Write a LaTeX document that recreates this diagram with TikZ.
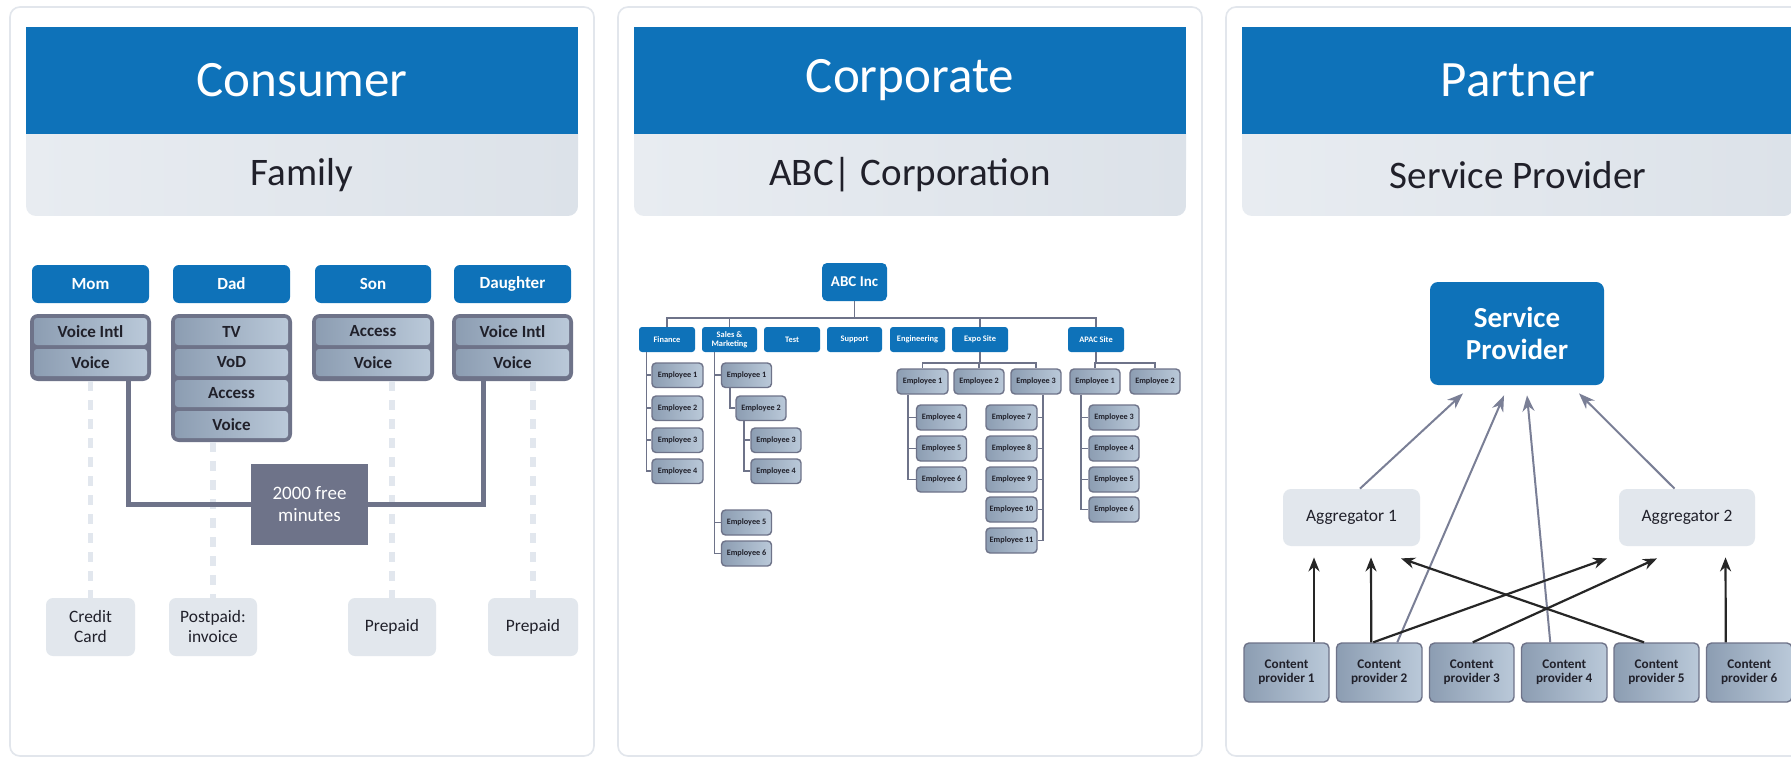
\documentclass[tikz,border=0pt]{standalone}
\usepackage{fontspec}
\setmainfont{Carlito}
\usetikzlibrary{calc,arrows.meta}
\definecolor{hblue}{RGB}{14,114,185}
\definecolor{dgray}{RGB}{110,115,137}
\definecolor{steelL}{RGB}{140,157,178}
\definecolor{steelR}{RGB}{186,201,217}
\definecolor{pale}{RGB}{226,231,237}
\definecolor{subL}{RGB}{232,236,241}
\definecolor{subR}{RGB}{220,226,233}
\definecolor{cardB}{RGB}{226,230,236}
\definecolor{dashc}{RGB}{226,231,238}
\definecolor{agray}{RGB}{122,127,150}
\definecolor{txt}{RGB}{32,32,42}
\newcommand{\pbx}[6]{\node[#2,minimum width={(#5-#3)*0.5pt},minimum height={(#6-#4)*0.5pt}] (#1) at ({(#3+#5)/2},{(#4+#6)/2})}
\begin{document}
\begin{tikzpicture}[x=0.5pt,y=-0.5pt,
  card/.style={draw=cardB,line width=0.8pt,fill=white,rounded corners=5pt},
  hdr/.style={fill=hblue,text=white,inner sep=0pt,font=\fontsize{25.5}{30}\selectfont},
  subpatch/.style={left color=subL,right color=subR},
  sub/.style={left color=subL,right color=subR,rounded corners=5pt,text=txt,inner sep=0pt,font=\fontsize{19.5}{24}\selectfont},
  person/.style={fill=hblue,rounded corners=3pt,text=white,inner sep=0pt,font=\bfseries\fontsize{8.5}{10}\selectfont},
  stack/.style={fill=dgray,rounded corners=4pt,inner sep=0pt},
  cell/.style={left color=steelL,right color=steelR,rounded corners=1.5pt,text=txt,inner sep=0pt,font=\bfseries\fontsize{8.5}{10}\selectfont},
  bill/.style={fill=pale,rounded corners=3.5pt,text=txt,align=center,inner sep=0pt,font=\fontsize{8.7}{10}\selectfont},
  freebox/.style={fill=dgray,text=white,align=center,inner sep=0pt,font=\fontsize{9.5}{11}\selectfont},
  dashline/.style={draw=dashc,line width=2.8pt,dash pattern=on 5pt off 4.5pt},
  thickline/.style={draw=dgray,line width=2.5pt},
  abcbox/.style={fill=hblue,rounded corners=2.5pt,text=white,inner sep=0pt,font=\bfseries\fontsize{7.5}{9}\selectfont},
  dept/.style={fill=hblue,rounded corners=1.5pt,text=white,align=center,inner sep=0pt,font=\bfseries\fontsize{4.2}{4.6}\selectfont},
  emp/.style={draw=dgray,line width=0.7pt,left color=steelL,right color=steelR,rounded corners=2pt,text=txt,inner sep=0pt,font=\bfseries\fontsize{4.1}{5}\selectfont},
  org/.style={draw=dgray,line width=0.8pt},
  spbox/.style={fill=hblue,rounded corners=4pt,text=white,align=center,inner sep=0pt,font=\bfseries\fontsize{14.5}{16}\selectfont},
  agg/.style={fill=pale,rounded corners=4pt,text=txt,inner sep=0pt,font=\fontsize{8.7}{10}\selectfont},
  cp/.style={draw=dgray,line width=0.7pt,left color=steelL,right color=steelR,rounded corners=2.5pt,text=txt,align=center,inner sep=0pt,font=\bfseries\fontsize{6.6}{7.2}\selectfont},
  garrow/.style={draw=agray,line width=1pt,-{Stealth[length=8pt,width=6pt]}},
  barrow/.style={draw=black!85,line width=1.1pt,-{Stealth[length=7pt,width=5.5pt]}}
]
\clip (0,0) rectangle (1791,759);
\fill[white] (0,0) rectangle (1791,759);

% ---------- cards and headers ----------
\foreach \L in {10,618,1226} {
  \draw[card] (\L,7) rectangle ({\L+584},756);
  \fill[subpatch] ({\L+16},134) rectangle ({\L+568},170);
}
\pbx{sub1}{sub}{26}{134}{578}{216}{Family};
\pbx{hdr1}{hdr}{26}{27}{578}{134}{Consumer};
\pbx{sub2}{sub}{634}{134}{1186}{216}{ABC| Corporation};
\pbx{hdr2}{hdr}{634}{27}{1186}{134}{Corporate};
\pbx{sub3}{sub}{1242}{134}{1794}{216}{Service Provider};
\pbx{hdr3}{hdr}{1242}{27}{1794}{134}{Partner};

% ---------- panel 1: consumer ----------
\pbx{mom}{person}{32}{265}{149}{303}{Mom};
\pbx{dad}{person}{173}{265}{290}{303}{Dad};
\pbx{son}{person}{315}{265}{431}{303}{Son};
\pbx{dau}{person}{454}{265}{571}{303}{Daughter};

\pbx{credit}{bill}{46}{598}{135}{656}{Credit\\Card};
\pbx{post}{bill}{169}{598}{257}{656}{Postpaid:\\invoice};
\pbx{pre1}{bill}{348}{598}{436}{656}{Prepaid};
\pbx{pre2}{bill}{488}{598}{578}{656}{Prepaid};

\pbx{momS}{stack}{30}{314}{151}{381}{};
\pbx{dadS}{stack}{171}{314}{292}{442}{};
\pbx{sonS}{stack}{312}{314}{434}{381}{};
\pbx{dauS}{stack}{452}{314}{573}{381}{};

\draw[dashline] (momS.south) -- (credit.north);
\draw[dashline] (dadS.south -| post.north) -- (post.north);
\draw[dashline] (sonS.south -| pre1.north) -- (pre1.north);
\draw[dashline] (dauS.south -| pre2.north) -- (pre2.north);

\pbx{momA}{cell}{34}{318}{147}{345}{Voice Intl};
\pbx{momB}{cell}{34}{349}{147}{376}{Voice};
\pbx{dadA}{cell}{175}{318}{288}{345}{TV};
\pbx{dadB}{cell}{175}{349}{288}{376}{VoD};
\pbx{dadC}{cell}{175}{380}{288}{407}{Access};
\pbx{dadD}{cell}{175}{411}{288}{438}{Voice};
\pbx{sonA}{cell}{316}{318}{430}{345}{Access};
\pbx{sonB}{cell}{316}{349}{430}{376}{Voice};
\pbx{dauA}{cell}{456}{318}{569}{345}{Voice Intl};
\pbx{dauB}{cell}{456}{349}{569}{376}{Voice};

\pbx{free}{freebox}{251}{464}{368}{545}{2000 free\\minutes};
\draw[thickline] ($(momS.south)+(37.5,0)$) |- (free.west);
\draw[thickline] ($(dauS.south)+(-29.5,0)$) |- (free.east);

% ---------- panel 2: corporate ----------
\pbx{abc}{abcbox}{822}{263}{887}{301}{ABC Inc};
\pbx{fin}{dept}{639}{327}{695}{352}{Finance};
\pbx{sal}{dept}{702}{327}{757}{352}{Sales \&\\Marketing};
\pbx{test}{dept}{764}{327}{820}{352}{Test};
\pbx{sup}{dept}{827}{327}{882}{352}{Support};
\pbx{eng}{dept}{890}{327}{945}{352}{Engineering};
\pbx{expo}{dept}{952}{327}{1008}{352}{Expo Site};
\pbx{apac}{dept}{1068}{327}{1124}{352}{APAC Site};

\pbx{f1}{emp}{652}{363}{703}{387.5}{Employee 1};
\pbx{f2}{emp}{652}{396}{703}{420.5}{Employee 2};
\pbx{f3}{emp}{652}{428}{703}{452.5}{Employee 3};
\pbx{f4}{emp}{652}{459}{703}{483.5}{Employee 4};

\pbx{s1}{emp}{721.5}{363}{771.5}{387.5}{Employee 1};
\pbx{s2}{emp}{736}{396}{786}{420.5}{Employee 2};
\pbx{s3}{emp}{751}{428}{801}{452.5}{Employee 3};
\pbx{s4}{emp}{751}{459}{801}{483.5}{Employee 4};
\pbx{s5}{emp}{721.5}{510}{771.5}{535}{Employee 5};
\pbx{s6}{emp}{721.5}{541}{771.5}{566}{Employee 6};

\pbx{e1}{emp}{897}{369}{948}{394}{Employee 1};
\pbx{e2}{emp}{954}{369}{1004}{394}{Employee 2};
\pbx{e3}{emp}{1011}{369}{1061}{394}{Employee 3};
\pbx{e4}{emp}{916.5}{405}{966.5}{430}{Employee 4};
\pbx{e5}{emp}{916.5}{436}{966.5}{461}{Employee 5};
\pbx{e6}{emp}{916.5}{467}{966.5}{492}{Employee 6};
\pbx{e7}{emp}{986}{405}{1037}{430}{Employee 7};
\pbx{e8}{emp}{986}{436}{1037}{461}{Employee 8};
\pbx{e9}{emp}{986}{467}{1037}{492}{Employee 9};
\pbx{e10}{emp}{986}{497}{1037}{522}{Employee 10};
\pbx{e11}{emp}{986}{528}{1037}{553}{Employee 11};

\pbx{a1}{emp}{1070}{369}{1120}{394}{Employee 1};
\pbx{a2}{emp}{1130}{369}{1180}{394}{Employee 2};
\pbx{a3}{emp}{1089}{405}{1139}{430}{Employee 3};
\pbx{a4}{emp}{1089}{436}{1139}{461}{Employee 4};
\pbx{a5}{emp}{1089}{467}{1139}{492}{Employee 5};
\pbx{a6}{emp}{1089}{497}{1139}{522}{Employee 6};

\coordinate (bus) at (0,318);
\coordinate (ebus) at (0,363);
\draw[org] (fin.north) -- (fin.north |- bus) -| (apac.north);
\draw[org] (abc.south) -- (abc.south |- bus);
\draw[org] (sal.north) -- (sal.north |- bus);
\draw[org] (expo.north) -- (expo.north |- bus);

\coordinate (fx) at (646.5,0);
\draw[org] (fx |- fin.south) |- (f4.west);
\foreach \i in {1,2,3} \draw[org] (fx |- f\i.west) -- (f\i.west);

\coordinate (sx) at (714.6,0);
\draw[org] (sx |- sal.south) |- (s6.west);
\foreach \i in {1,5} \draw[org] (sx |- s\i.west) -- (s\i.west);
\coordinate (s1x) at (730,0);
\draw[org] (s1x |- s1.south) |- (s2.west);
\coordinate (s2x) at (744,0);
\draw[org] (s2x |- s2.south) |- (s4.west);
\draw[org] (s2x |- s3.west) -- (s3.west);

\draw[org] (expo.south) -- (expo.south |- ebus);
\draw[org] (e1.north) -- (e1.north |- ebus) -| (e3.north);
\draw[org] (e2.north) -- (e2.north |- ebus);
\coordinate (e1x) at (908,0);
\draw[org] (e1x |- e1.south) |- (e6.west);
\foreach \i in {4,5} \draw[org] (e1x |- e\i.west) -- (e\i.west);
\coordinate (e3x) at (1043,0);
\draw[org] (e3x |- e3.south) |- (e11.east);
\foreach \i in {7,8,9,10} \draw[org] (e3x |- e\i.east) -- (e\i.east);

\draw[org] (apac.south) -- (apac.south |- ebus);
\draw[org] (a1.north) -- (a1.north |- ebus) -| (a2.north);
\coordinate (a1x) at (1081,0);
\draw[org] (a1x |- a1.south) |- (a6.west);
\foreach \i in {3,4,5} \draw[org] (a1x |- a\i.west) -- (a\i.west);

% ---------- panel 3: partner ----------
\pbx{sp}{spbox}{1430}{282}{1604}{385}{Service\\Provider};
\pbx{agg1}{agg}{1283}{489}{1420}{546}{Aggregator 1};
\pbx{agg2}{agg}{1619}{489}{1755}{546}{Aggregator 2};
\pbx{cp1}{cp}{1244}{643}{1329}{702}{Content\\provider 1};
\pbx{cp2}{cp}{1336.5}{643}{1422}{702}{Content\\provider 2};
\pbx{cp3}{cp}{1429.5}{643}{1514}{702}{Content\\provider 3};
\pbx{cp4}{cp}{1521.5}{643}{1607}{702}{Content\\provider 4};
\pbx{cp5}{cp}{1614}{643}{1699}{702}{Content\\provider 5};
\pbx{cp6}{cp}{1706.5}{643}{1792}{702}{Content\\provider 6};

\draw[garrow] ($(agg1.north)+(8.5,0)$) -- ($(sp.south)+(-54,8)$);
\draw[garrow] ($(cp2.north)+(18,0)$) -- ($(sp.south)+(-13,10)$);
\draw[garrow] ($(cp4.north)+(-14,0)$) -- ($(sp.south)+(10,10)$);
\draw[garrow] ($(agg2.north)+(-12.5,0)$) -- ($(sp.south)+(62,8)$);

\draw[barrow] ($(cp1.north)+(27.5,0)$) -- ($(agg1.south)+(-37.5,11)$);
\draw[barrow] ($(cp2.north)+(-8,0)$) -- ($(agg1.south)+(19.5,11)$);
\draw[barrow] ($(cp5.north)+(-12.5,0)$) -- ($(agg1.south)+(49.5,12)$);
\draw[barrow] ($(cp2.north)+(-6,0)$) -- ($(agg2.south)+(-80,12)$);
\draw[barrow] ($(cp3.north)+(1,0)$) -- ($(agg2.south)+(-30,12)$);
\draw[barrow] ($(cp6.north)+(-23.5,0)$) -- ($(agg2.south)+(38.5,11)$);
\end{tikzpicture}
\end{document}
